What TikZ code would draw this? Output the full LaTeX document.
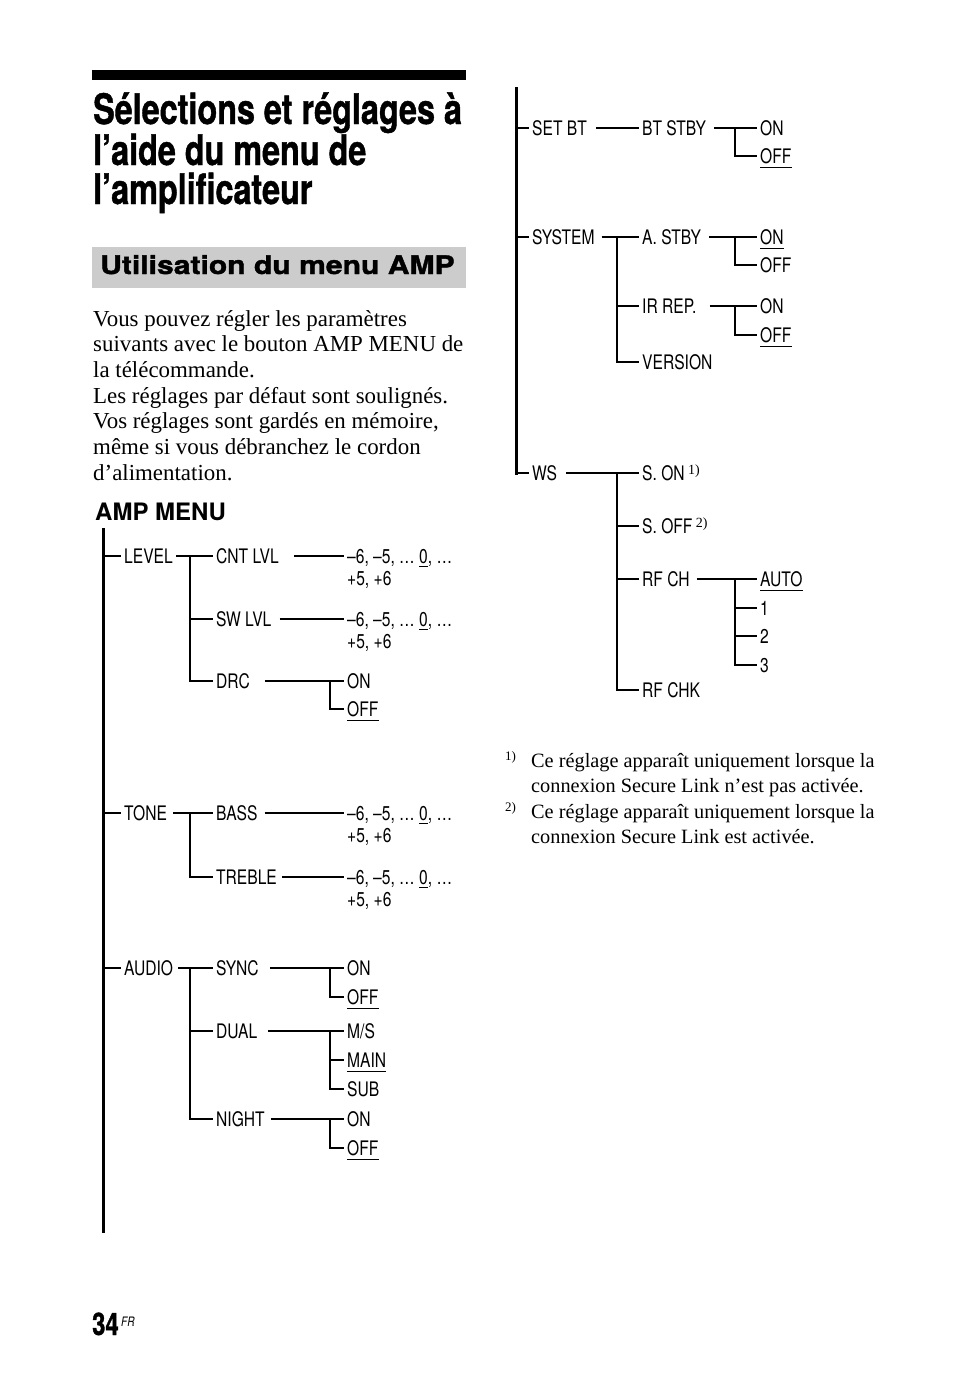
\documentclass[tikz,border=0pt]{standalone}
\usepackage{fontspec}
\setmainfont{Liberation Serif}
\newfontfamily\dgf[FakeStretch=0.78]{TeX Gyre Heros}
\newfontfamily\titf[FakeStretch=0.77,FakeBold=1]{TeX Gyre Heros}
\newfontfamily\hdf[FakeStretch=1.18,FakeBold=1.5]{TeX Gyre Heros}
\newfontfamily\sbf{TeX Gyre Heros}
\newsavebox\zb
\newcommand\uzero{\sbox\zb{0}\rlap{\rule[-4pt]{\wd\zb}{1.5pt}}\usebox\zb}
\newcommand\vals{–6, –5, … \uzero, …}
\newcommand\ulw[1]{\draw[ulst] ([shift={(3pt,-4pt)}]#1.south west) -- ([shift={(-3pt,-4pt)}]#1.south east);}
\newcommand\fsup[1]{{\rmfamily\fontsize{14}{14}\selectfont\raisebox{6pt}{#1}}}
\definecolor{boxgray}{RGB}{204,204,204}
\tikzset{
  lbl/.style={font=\dgf\fontsize{20}{20}\selectfont, anchor=west, inner xsep=3pt, inner ysep=0pt, text height=14.4pt, text depth=0pt, xshift=-3pt},
  ln/.style={line width=1.2pt},
  tk/.style={line width=2pt},
  trunk/.style={line width=3pt},
  ulst/.style={line width=1.6pt},
  bodyt/.style={anchor=base west, inner sep=0pt, font=\fontsize{22.9}{25.7}\selectfont},
  foot/.style={anchor=base west, inner sep=0pt, font=\fontsize{20.3}{25.5}\selectfont},
  fmark/.style={anchor=base west, inner sep=0pt, font=\fontsize{13}{13}\selectfont},
  titl/.style={anchor=base west, inner sep=0pt, font=\titf\bfseries\fontsize{42}{42}\selectfont},
}
\begin{document}
\begin{tikzpicture}[x=1pt,y=-1pt]
\useasboundingbox (0,0) rectangle (954,1373);
% header
\fill[black] (92,70) rectangle (466,80);
\node[titl] (t1) at (93,124) {Sélections et réglages à};
\node[titl] (t2) at (93,165) {l’aide du menu de};
\node[titl] (t3) at (93,204) {l’amplificateur};
\fill[boxgray] (92,247) rectangle (466,288);
\node[anchor=base west, inner sep=0pt, font=\hdf\bfseries\fontsize{25.5}{25.5}\selectfont] (sub) at (100,274) {Utilisation du menu AMP};
% body
\node[bodyt] (p1) at (93,326) {Vous pouvez régler les paramètres};
\node[bodyt] (p2) at (93,351.7) {suivants avec le bouton AMP MENU de};
\node[bodyt] (p3) at (93,377.4) {la télécommande.};
\node[bodyt] (p4) at (93,403.1) {Les réglages par défaut sont soulignés.};
\node[bodyt] (p5) at (93,428.8) {Vos réglages sont gardés en mémoire,};
\node[bodyt] (p6) at (93,454.5) {même si vous débranchez le cordon};
\node[bodyt] (p7) at (93,480.2) {d’alimentation.};
\node[anchor=base west, inner sep=0pt, font=\sbf\bfseries\fontsize{24}{24}\selectfont] (amp) at (95,520) {AMP MENU};
% ---------- left tree
\coordinate (L0) at (103,528);
\coordinate (L1) at (103,1233);
\draw[trunk] (L0) -- (L1);
\coordinate (tl1) at (103,556);
\coordinate (tl2) at (103,813);
\coordinate (tl3) at (103,968);
\node[lbl] (level) at (124,556) {LEVEL};
\node[lbl] (cnt) at (216,556) {CNT LVL};
\node[lbl] (cntv) at (347,556) {\vals};
\node[lbl] (cntv2) at (347,578) {+5, +6};
\node[lbl] (swl) at (216,619) {SW LVL};
\node[lbl] (swlv) at (347,619) {\vals};
\node[lbl] (swlv2) at (347,641) {+5, +6};
\node[lbl] (drc) at (216,681) {DRC};
\node[lbl] (drcon) at (347,681) {ON};
\node[lbl] (drcoff) at (347,709) {OFF};
\node[lbl] (tone) at (124,813) {TONE};
\node[lbl] (bass) at (216,813) {BASS};
\node[lbl] (bassv) at (347,813) {\vals};
\node[lbl] (bassv2) at (347,835) {+5, +6};
\node[lbl] (treble) at (216,877) {TREBLE};
\node[lbl] (treblev) at (347,877) {\vals};
\node[lbl] (treblev2) at (347,899) {+5, +6};
\node[lbl] (audio) at (124,968) {AUDIO};
\node[lbl] (sync) at (216,968) {SYNC};
\node[lbl] (syncon) at (347,968) {ON};
\node[lbl] (syncoff) at (347,997) {OFF};
\node[lbl] (dual) at (216,1031) {DUAL};
\node[lbl] (ms) at (347,1031) {M/S};
\node[lbl] (main) at (347,1060) {MAIN};
\node[lbl] (subch) at (347,1089) {SUB};
\node[lbl] (night) at (216,1119) {NIGHT};
\node[lbl] (non) at (347,1119) {ON};
\node[lbl] (noff) at (347,1148) {OFF};
\coordinate (b1) at (190,556);
\coordinate (b2) at (330,681);
\coordinate (b3) at (190,813);
\coordinate (b4) at (190,968);
\coordinate (b5) at (330,968);
\coordinate (b6) at (330,1031);
\coordinate (b7) at (330,1119);
\draw[ln] (tl1) -- (level.west);
\draw[ln] (level.east) -- (cnt.west);
\draw[ln] (b1) |- (drc.west);
\draw[tk] (b1 |- swl.west) -- (swl.west);
\draw[ln] ([xshift=12pt]cnt.east) -- (cntv.west);
\draw[tk] ([xshift=5pt]swl.east) -- (swlv.west);
\draw[tk] ([xshift=12pt]drc.east) -- (b2);
\draw[ln] (b2) -- (drcon.west);
\draw[ln] (b2) |- (drcoff.west);
\ulw{drcoff}
\draw[ln] (tl2) -- (tone.west);
\draw[ln] ([xshift=3pt]tone.east) -- (bass.west);
\draw[ln] (b3) |- (treble.west);
\draw[ln] ([xshift=4pt]bass.east) -- (bassv.west);
\draw[ln] ([xshift=2pt]treble.east) -- (treblev.west);
\draw[ln] (tl3) -- (audio.west);
\draw[ln] ([xshift=2pt]audio.east) -- (sync.west);
\draw[ln] (b4) |- (night.west);
\draw[tk] (b4 |- dual.west) -- (dual.west);
\draw[ln] ([xshift=8pt]sync.east) -- (syncon.west);
\draw[ln] (b5) |- (syncoff.west);
\ulw{syncoff}
\draw[ln] ([xshift=8pt]dual.east) -- (ms.west);
\draw[ln] (b6) |- (main.west);
\draw[ln] (b6) |- (subch.west);
\draw[tk] (b6 |- subch.west) -- (subch.west);
\ulw{main}
\draw[ln] ([xshift=3pt]night.east) -- (non.west);
\draw[ln] (b7) |- (noff.west);
\draw[tk] (b7 |- noff.west) -- (noff.west);
\ulw{noff}
% ---------- right tree
\coordinate (R0) at (516,87);
\coordinate (R1) at (516,474.5);
\coordinate (rt1) at (516,128);
\coordinate (rt2) at (516,237);
\coordinate (rt3) at (516,473);
\draw[trunk] (R0) -- (R1);
\node[lbl] (setbt) at (532,128) {SET BT};
\node[lbl] (btstby) at (642,128) {BT STBY};
\node[lbl] (bton) at (760,128) {ON};
\node[lbl] (btoff) at (760,156) {OFF};
\node[lbl] (system) at (532,237) {SYSTEM};
\node[lbl] (astby) at (642,237) {A. STBY};
\node[lbl] (ason) at (760,237) {ON};
\node[lbl] (asoff) at (760,265) {OFF};
\node[lbl] (irrep) at (642,306) {IR REP.};
\node[lbl] (iron) at (760,306) {ON};
\node[lbl] (iroff) at (760,335) {OFF};
\node[lbl] (version) at (642,362) {VERSION};
\node[lbl] (ws) at (532,473) {WS};
\node[lbl] (son) at (642,473) {S. ON\,\fsup{1)}};
\node[lbl] (soff) at (642,526) {S. OFF\,\fsup{2)}};
\node[lbl] (rfch) at (642,579) {RF CH};
\node[lbl] (auto) at (760,579) {AUTO};
\node[lbl] (one) at (760,608) {1};
\node[lbl] (two) at (760,636) {2};
\node[lbl] (three) at (760,665) {3};
\node[lbl] (rfchk) at (642,690) {RF CHK};
\coordinate (c1) at (735,128);
\coordinate (c2) at (617,237);
\coordinate (c3) at (735,237);
\coordinate (c4) at (735,306);
\coordinate (c5) at (617,473);
\coordinate (c6) at (735,579);
\draw[ln] (rt1) -- (setbt.west);
\draw[ln] ([xshift=6pt]setbt.east) -- (btstby.west);
\draw[ln] ([xshift=5pt]btstby.east) -- (bton.west);
\draw[tk] (c1) |- (btoff.west);
\ulw{btoff}
\draw[ln] (rt2) -- (system.west);
\draw[ln] ([xshift=4pt]system.east) -- (astby.west);
\draw[ln] (c2) |- (version.west);
\draw[tk] (c2 |- irrep.west) -- (irrep.west);
\draw[tk] (c2 |- version.west) -- (version.west);
\draw[ln] ([xshift=5pt]astby.east) -- (ason.west);
\draw[ln] (c3) |- (asoff.west);
\ulw{ason}
\draw[tk] ([xshift=10pt]irrep.east) -- (c4);
\draw[ln] (c4) -- (iron.west);
\draw[ln] (c4) |- (iroff.west);
\ulw{iroff}
\draw[ln] (rt3) -- (ws.west);
\draw[ln] ([xshift=6pt]ws.east) -- (son.west);
\draw[ln] (c5) |- (rfchk.west);
\draw[ln] (c5) |- (soff.west);
\draw[tk] (c5 |- rfch.west) -- (rfch.west);
\draw[tk] (c5 |- rfchk.west) -- (rfchk.west);
\draw[tk] ([xshift=4pt]rfch.east) -- (auto.west);
\draw[ln] (c6) |- (three.west);
\draw[ln] (c6 |- one.west) -- (one.west);
\draw[ln] (c6 |- two.west) -- (two.west);
\ulw{auto}
% footnotes
\node[fmark] (m1) at (505,760) {1)};
\node[foot] (f1a) at (531,767) {Ce réglage apparaît uniquement lorsque la};
\node[foot] (f1b) at (531,792.5) {connexion Secure Link n’est pas activée.};
\node[fmark] (m2) at (505,811) {2)};
\node[foot] (f2a) at (531,818) {Ce réglage apparaît uniquement lorsque la};
\node[foot] (f2b) at (531,843.5) {connexion Secure Link est activée.};
% page number
\node[anchor=base west, inner sep=0pt, font=\titf\bfseries\fontsize{31}{31}\selectfont] (pg) at (92,1335) {34};
\node[anchor=base west, inner sep=0pt, font=\dgf\itshape\fontsize{13}{13}\selectfont] (fr) at (121,1326) {FR};
\end{tikzpicture}
\end{document}
